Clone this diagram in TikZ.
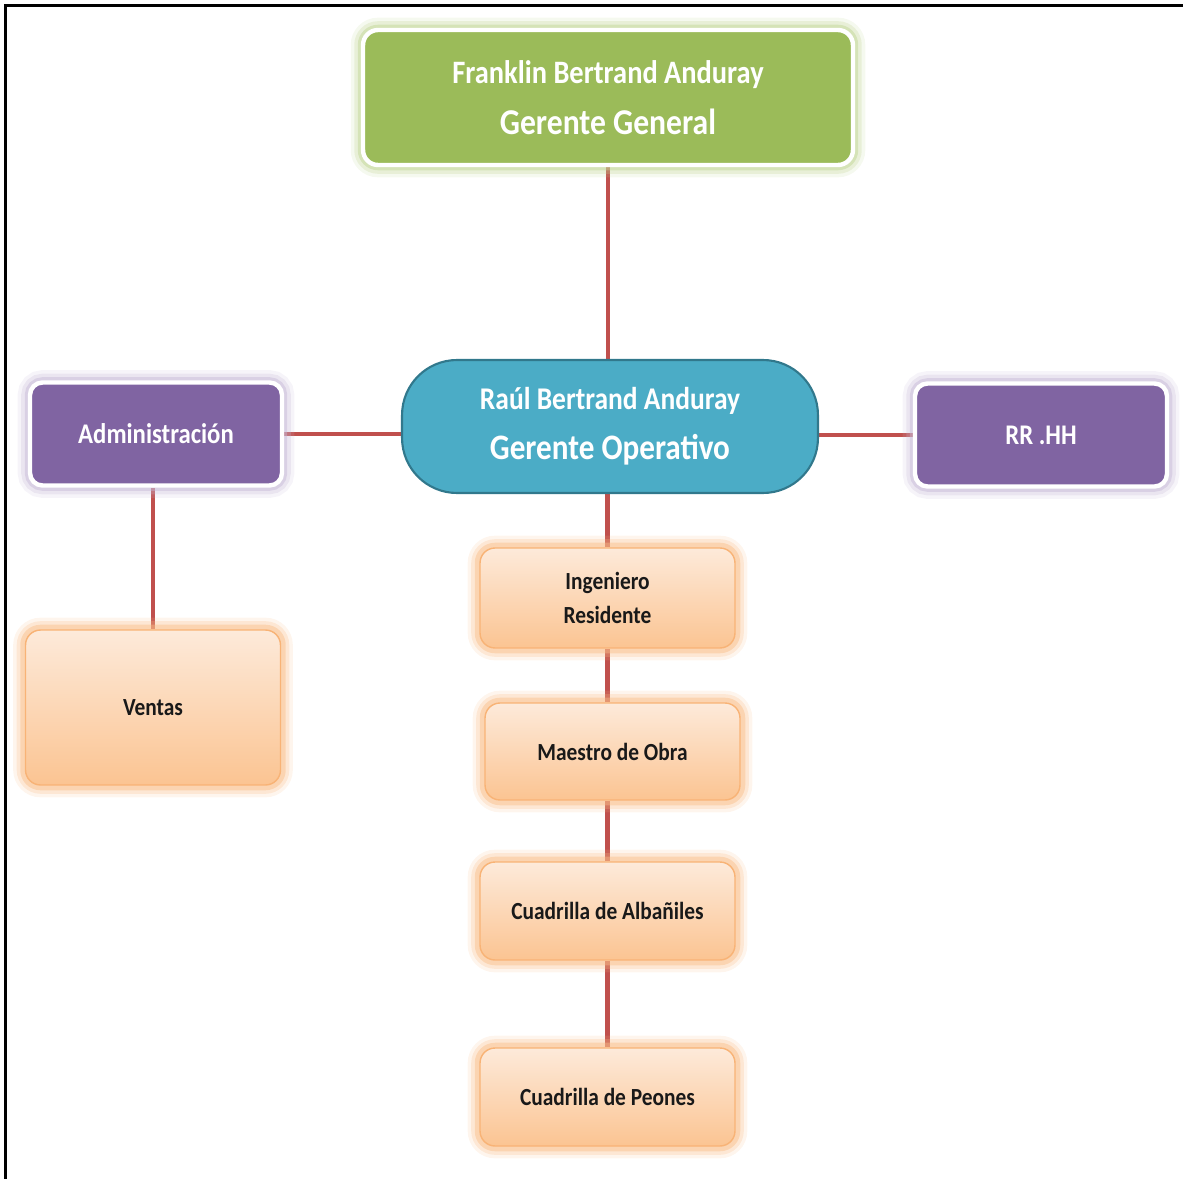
\documentclass[tikz,border=0pt]{standalone}
\usepackage{fontspec}
\setmainfont[FakeStretch=0.87]{Carlito}
\usepackage{xcolor}
\usetikzlibrary{backgrounds}

\definecolor{linkred}{RGB}{192,80,77}
\definecolor{ggreen}{RGB}{155,187,89}
\definecolor{ggreenglow}{RGB}{190,212,145}
\definecolor{opteal}{RGB}{75,172,198}
\definecolor{opborder}{RGB}{49,120,140}
\definecolor{apurple}{RGB}{128,100,162}
\definecolor{apurpleglow}{RGB}{196,183,214}
\definecolor{otop}{RGB}{253,234,218}
\definecolor{obottom}{RGB}{251,196,146}
\definecolor{oborder}{RGB}{246,160,84}

\begin{document}
\begin{tikzpicture}[x=0.02cm, y=-0.02cm,
    link/.style={draw=linkred, line width=2.3pt},
    glow/.style={preaction={draw=#1, line width=14pt, opacity=0.15},
                 preaction={draw=#1, line width=10pt, opacity=0.25},
                 preaction={draw=#1, line width=6pt, opacity=0.45}},
    headbox/.style={rectangle, rounded corners=0.3cm, glow=ggreenglow,
                    fill=ggreen, draw=white, line width=2.5pt, text=white,
                    align=center, minimum width=9.8cm, minimum height=2.7cm,
                    font=\fontsize{20.7pt}{29pt}\selectfont\bfseries},
    opbox/.style={rectangle, rounded corners=1.1cm, fill=opteal, draw=opborder,
                  line width=1.2pt, text=white, align=center,
                  minimum width=8.32cm, minimum height=2.66cm,
                  font=\fontsize{20.4pt}{28.4pt}\selectfont\bfseries},
    sidebox/.style={rectangle, rounded corners=0.25cm, glow=apurpleglow,
                    fill=apurple, draw=white, line width=2.5pt, text=white,
                    align=center, minimum width=5.04cm, minimum height=2.06cm,
                    font=\fontsize{16.2pt}{20pt}\selectfont\bfseries},
    workbox/.style={rectangle, rounded corners=0.3cm, glow=oborder!70,
                    top color=otop, bottom color=obottom, draw=oborder!80,
                    line width=0.8pt, text=black!90, align=center,
                    minimum width=5.1cm, minimum height=1.96cm,
                    font=\fontsize{14pt}{19.3pt}\selectfont\bfseries}]

    \useasboundingbox (0,0) rectangle (1183,1179);

    % Frame
    \draw[black, line width=1.7pt] (5.5,1179) -- (5.5,5.5) -- (1183,5.5);

    % Management
    \node[headbox] (gg) at (608,97.5)
        {{\fontsize{18.6pt}{29pt}\selectfont Franklin Bertrand Anduray}\\
         Gerente General};
    \node[opbox] (go) at (610,426.5)
        {{\fontsize{18pt}{28.4pt}\selectfont Raúl Bertrand Anduray}\\
         Gerente Operativo};

    % Departments
    \node[sidebox] (adm) at (156,434) {Administración};
    \node[sidebox] (rrhh) at (1041,435) {RR .HH};
    \node[workbox, minimum height=3.1cm] (ventas) at (153,707.5) {Ventas};

    % Works
    \node[workbox, minimum height=2.0cm] (ing) at (607.5,598) {Ingeniero\\Residente};
    \node[workbox, minimum height=1.94cm] (mae) at (612.5,751.5) {Maestro de Obra};
    \node[workbox] (alb) at (607.5,911) {Cuadrilla de Albañiles};
    \node[workbox] (peo) at (607.5,1097) {Cuadrilla de Peones};

    % Links
    \begin{pgfonlayer}{background}
        \draw[link] (gg.south) -- (gg.south |- go.north);
        \draw[link] (adm.east) -- (adm.east -| go.west);
        \draw[link] (go.east |- rrhh.west) -- (rrhh.west);
        \draw[link] (ventas.north |- adm.south) -- (ventas.north);
        \draw[link] (ing.north |- go.south) -- (ing.north);
        \draw[link] (ing.south) -- (ing.south |- mae.north);
        \draw[link] (ing.south |- mae.south) -- (ing.south |- alb.north);
        \draw[link] (alb.south) -- (peo.north);
    \end{pgfonlayer}

\end{tikzpicture}
\end{document}
